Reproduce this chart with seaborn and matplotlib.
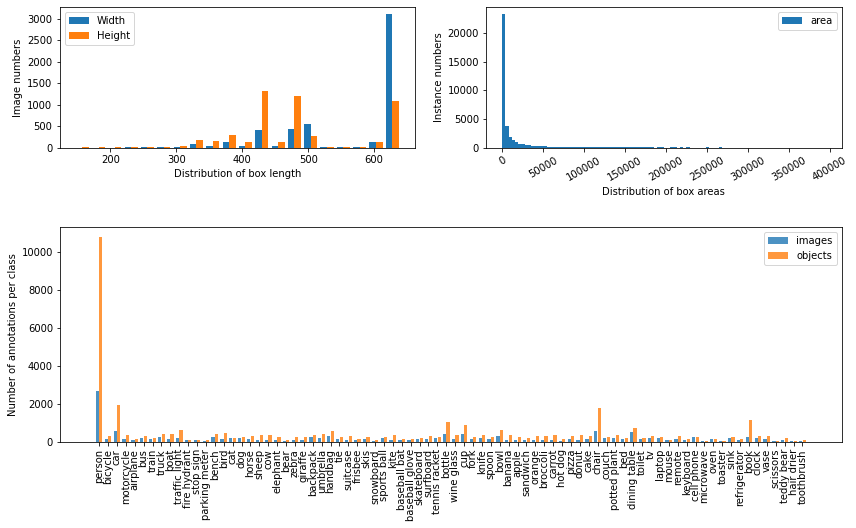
import numpy as np
import pandas as pd
import matplotlib
matplotlib.use("Agg")
import matplotlib.pyplot as plt
import seaborn as sns

# ---------------- data ----------------
# Box length histogram (20 bins between min and max length)
length_min, length_max = 145, 640
width_counts = [0, 0, 0, 20, 20, 20, 20, 92, 46, 146, 46, 420, 46, 445, 560, 20, 20, 20, 146, 3114]
height_counts = [20, 20, 20, 20, 20, 20, 46, 190, 170, 300, 146, 1320, 146, 1197, 284, 20, 20, 20, 146, 1089]

# Box area histogram (100 bins between 0 and max area)
area_min, area_max = 0, 395000
area_counts = [
    23300, 3800, 1950, 1380, 1040, 760, 700, 580, 560, 420,
    410, 390, 380, 360, 260, 250, 250, 240, 240, 230,
    230, 220, 220, 220, 210, 210, 210, 200, 200, 200,
    190, 190, 190, 190, 180, 180, 180, 180, 170, 170,
    170, 170, 160, 160, 160, 160, 150, 0, 150, 150,
    0, 0, 150, 150, 0, 150, 0, 150, 0, 0,
    0, 0, 0, 150, 0, 0, 0, 150, 0, 0,
    0, 0, 0, 0, 0, 0, 0, 0, 0, 0,
    0, 0, 0, 0, 0, 0, 0, 0, 0, 0,
    0, 0, 0, 0, 0, 0, 0, 0, 0, 2,
]

# Annotations per class
classes = [
    "person", "bicycle", "car", "motorcycle", "airplane", "bus", "train", "truck", "boat",
    "traffic light", "fire hydrant", "stop sign", "parking meter", "bench", "bird", "cat",
    "dog", "horse", "sheep", "cow", "elephant", "bear", "zebra", "giraffe", "backpack",
    "umbrella", "handbag", "tie", "suitcase", "frisbee", "skis", "snowboard", "sports ball",
    "kite", "baseball bat", "baseball glove", "skateboard", "surfboard", "tennis racket",
    "bottle", "wine glass", "cup", "fork", "knife", "spoon", "bowl", "banana", "apple",
    "sandwich", "orange", "broccoli", "carrot", "hot dog", "pizza", "donut", "cake", "chair",
    "couch", "potted plant", "bed", "dining table", "toilet", "tv", "laptop", "mouse",
    "remote", "keyboard", "cell phone", "microwave", "oven", "toaster", "sink",
    "refrigerator", "book", "clock", "vase", "scissors", "teddy bear", "hair drier",
    "toothbrush",
]
images = [
    2700, 175, 600, 175, 120, 230, 175, 280, 175,
    230, 120, 120, 70, 280, 175, 230,
    230, 175, 120, 120, 120, 70, 120, 120, 280,
    230, 330, 175, 120, 120, 175, 70, 230,
    120, 120, 120, 175, 175, 230,
    440, 175, 440, 175, 230, 175, 330, 120, 120,
    120, 120, 120, 120, 70, 175, 120, 175, 600,
    230, 230, 175, 540, 175, 230, 230, 120,
    175, 120, 280, 70, 175, 70, 230,
    120, 280, 230, 175, 70, 120, 70,
    70,
]
objects = [
    10780, 330, 1960, 385, 175, 330, 230, 440, 440,
    650, 120, 120, 120, 440, 490, 230,
    280, 330, 385, 385, 280, 120, 280, 280, 385,
    440, 600, 280, 330, 175, 280, 120, 280,
    385, 175, 175, 230, 330, 280,
    1070, 385, 910, 280, 385, 280, 650, 385, 280,
    230, 330, 330, 385, 175, 330, 385, 330, 1800,
    280, 385, 230, 750, 230, 330, 280, 120,
    330, 175, 280, 70, 175, 70, 280,
    175, 1170, 330, 330, 70, 230, 70,
    120,
]

# ---------------- figure ----------------
W, H, DPI = 856, 528, 72
fig = plt.figure(figsize=(W / DPI, H / DPI), dpi=DPI)

def box(l, t, r, b):
    return [l / W, 1 - b / H, (r - l) / W, (b - t) / H]

blue, orange = "#1f77b4", "#ff7f0e"

# ---- top-left: box lengths ----
ax1 = fig.add_axes(box(59.5, 7, 415, 148))
n_len = len(width_counts)
bw_len = (length_max - length_min) / n_len
centers_len = [length_min + bw_len * (i + 0.5) for i in range(n_len)]
df_len = pd.DataFrame({
    "length": centers_len + centers_len,
    "count": width_counts + height_counts,
    "kind": ["Width"] * n_len + ["Height"] * n_len,
})
sns.histplot(data=df_len, x="length", weights="count", hue="kind",
             hue_order=["Width", "Height"], bins=n_len,
             binrange=(length_min, length_max), multiple="dodge",
             shrink=0.8, palette=[blue, orange], alpha=1, linewidth=0, ax=ax1)
sns.move_legend(ax1, "upper left", title=None)
ax1.set_xlabel("Distribution of box length")
ax1.set_ylabel("Image numbers")

# ---- top-right: box areas ----
ax2 = fig.add_axes(box(486, 7, 841.7, 148))
n_area = len(area_counts)
bw_area = (area_max - area_min) / n_area
centers_area = [area_min + bw_area * (i + 0.5) for i in range(n_area)]
df_area = pd.DataFrame({"area": centers_area, "count": area_counts})
sns.histplot(data=df_area, x="area", weights="count", bins=n_area,
             binrange=(area_min, area_max),
             color=blue, alpha=1, linewidth=0, label="area", ax=ax2)
ax2.legend(loc="upper right")
ax2.set_xlabel("Distribution of box areas")
ax2.set_ylabel("Instance numbers")
ax2.tick_params(axis="x", rotation=30)

# ---- bottom: annotations per class ----
ax3 = fig.add_axes(box(60, 227, 841.5, 442))
n_cls = len(classes)
df_cls = pd.DataFrame({
    "cls": classes * 2,
    "n": images + objects,
    "kind": ["images"] * n_cls + ["objects"] * n_cls,
})
sns.barplot(data=df_cls, x="cls", y="n", hue="kind", hue_order=["images", "objects"],
            palette=[blue, orange], saturation=1, alpha=0.8, width=0.8, gap=0.1,
            errorbar=None, ax=ax3)
lo, hi = -0.4, n_cls - 1 + 0.4
pad = 0.05 * (hi - lo)
ax3.set_xlim(lo - pad, hi + pad)
ax3.tick_params(axis="x", rotation=90)
ax3.set_xlabel("")
ax3.set_ylabel("Number of annotations per class")
sns.move_legend(ax3, "upper right", title=None)

fig.savefig("out.png", dpi=DPI)
